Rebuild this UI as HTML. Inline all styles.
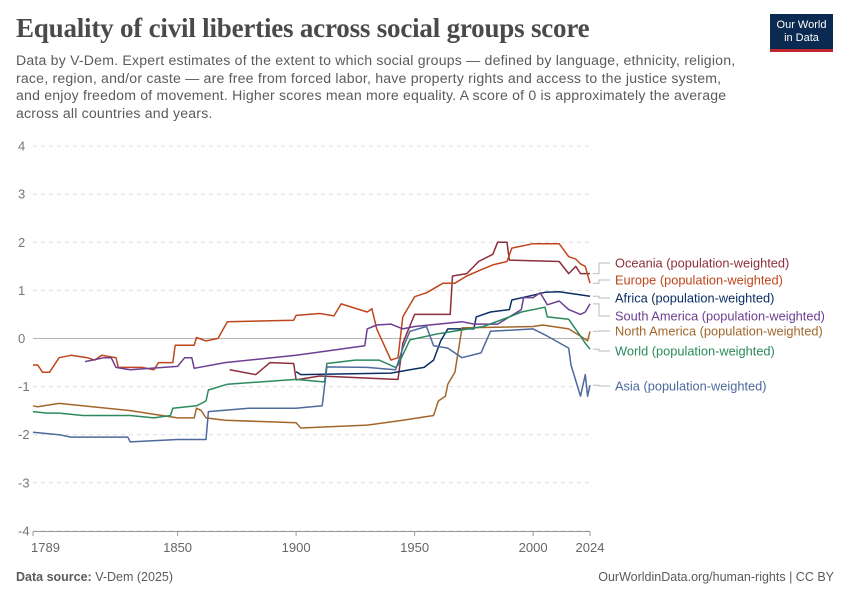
<!DOCTYPE html>
<html><head><meta charset="utf-8"><style>
body{margin:0;width:850px;height:600px;background:#fff;font-family:"Liberation Sans",sans-serif;overflow:hidden;position:relative}
.t{position:absolute}
</style></head><body>
<div class="t" style="left:16px;top:13px;font-family:'Liberation Serif',serif;font-size:27px;color:#4a4a4a;font-weight:bold;letter-spacing:-0.2px">Equality of civil liberties across social groups score</div>
<div class="t" style="left:16px;top:52px;white-space:nowrap;font-size:14.1px;line-height:17.5px;color:#5b5b5b;letter-spacing:0.2px">Data by V-Dem. Expert estimates of the extent to which social groups — defined by language, ethnicity, religion,<br>race, region, and/or caste — are free from forced labor, have property rights and access to the justice system,<br>and enjoy freedom of movement. Higher scores mean more equality. A score of 0 is approximately the average<br>across all countries and years.</div>
<div class="t" style="left:770px;top:14px;width:63px;height:38px;background:#0b2a52;border-bottom:3px solid #c0282e;color:#fff;font-size:11px;line-height:12.5px;text-align:center;padding-top:5px;box-sizing:border-box">Our World<br>in Data</div>
<svg class="t" style="left:0;top:0" width="850" height="600">
<g id="grid"></g><g id="lines"></g><g id="labels"></g>
</svg>
<div class="t" style="left:16px;top:570px;font-size:12.5px;color:#5b5b5b"><b>Data source:</b> V-Dem (2025)</div>
<div class="t" style="right:16px;top:570px;font-size:12.5px;color:#5b5b5b">OurWorldinData.org/human-rights | CC BY</div>
<script>
const yTicks=[4,3,2,1,0,-1,-2,-3,-4];
const xTicks=[1789,1850,1900,1950,2000,2024];
const seriesNames=["Oceania (population-weighted)","Europe (population-weighted)","Africa (population-weighted)","South America (population-weighted)","North America (population-weighted)","World (population-weighted)","Asia (population-weighted)"];
const seriesColors=["#8c2e3b","#c0461b","#0b2f63","#6d3e91","#a2662c","#2a8a5e","#4c6a9c"];
const oceaniaYears=[1872,1883,1889,1899,1900,1910,1942,1943,1945,1950,1965,1966,1972,1975,1977,1983,1985,1989,1990,2011,2015,2018,2020,2024];
const oceaniaVals=[-0.65,-0.75,-0.5,-0.52,-0.86,-0.78,-0.85,-0.85,-0.1,0.5,0.5,1.3,1.35,1.5,1.6,1.75,2.0,2.0,1.63,1.6,1.35,1.5,1.35,1.35];
const europeYears=[1789,1791,1793,1796,1800,1805,1812,1815,1818,1824,1825,1830,1835,1840,1842,1848,1849,1857,1858,1862,1867,1871,1899,1900,1910,1916,1919,1930,1932,1934,1940,1943,1945,1950,1955,1962,1967,1972,1979,1983,1989,1991,2000,2011,2015,2018,2020,2022,2024];
const europeVals=[-0.55,-0.55,-0.7,-0.7,-0.4,-0.35,-0.4,-0.45,-0.35,-0.4,-0.6,-0.6,-0.6,-0.65,-0.5,-0.5,-0.14,-0.14,0.02,-0.05,0.0,0.35,0.38,0.48,0.52,0.47,0.72,0.55,0.62,0.2,-0.45,-0.4,0.45,0.87,0.95,1.15,1.15,1.3,1.45,1.53,1.6,1.88,1.97,1.97,1.7,1.65,1.55,1.5,1.15];
const africaYears=[1900,1902,1940,1948,1954,1958,1961,1964,1975,1976,1982,1990,1991,2000,2005,2011,2024];
const africaVals=[-0.69,-0.75,-0.72,-0.65,-0.6,-0.45,-0.05,0.2,0.2,0.45,0.55,0.6,0.8,0.9,0.96,0.97,0.88];
const southAmYears=[1811,1819,1822,1824,1830,1850,1853,1856,1857,1870,1900,1910,1929,1930,1934,1940,1945,1950,1960,1970,1975,1985,1990,1995,1996,2000,2003,2006,2011,2015,2020,2022,2024];
const southAmVals=[-0.48,-0.4,-0.4,-0.6,-0.65,-0.58,-0.4,-0.4,-0.62,-0.5,-0.35,-0.28,-0.15,0.2,0.28,0.3,0.2,0.25,0.3,0.35,0.3,0.3,0.45,0.6,0.85,0.85,0.95,0.7,0.78,0.6,0.5,0.55,0.72];
const northAmYears=[1789,1791,1800,1830,1850,1857,1858,1860,1862,1870,1900,1902,1930,1945,1958,1960,1963,1964,1967,1970,2000,2004,2015,2020,2023,2024];
const northAmVals=[-1.4,-1.42,-1.35,-1.5,-1.65,-1.65,-1.45,-1.5,-1.65,-1.7,-1.75,-1.86,-1.8,-1.7,-1.6,-1.3,-1.2,-0.95,-0.7,0.22,0.25,0.28,0.2,0.05,-0.05,0.15];
const worldYears=[1789,1795,1800,1810,1830,1840,1847,1848,1858,1862,1863,1871,1900,1911,1912,1913,1925,1935,1942,1943,1948,1960,1979,1990,1995,2005,2006,2015,2020,2022,2024];
const worldVals=[-1.52,-1.55,-1.55,-1.6,-1.6,-1.65,-1.6,-1.45,-1.4,-1.3,-1.07,-0.95,-0.85,-0.9,-0.9,-0.52,-0.45,-0.45,-0.6,-0.55,-0.03,0.1,0.25,0.45,0.55,0.65,0.45,0.4,0.05,-0.1,-0.22];
const asiaYears=[1789,1800,1805,1829,1830,1850,1862,1863,1880,1900,1911,1913,1930,1942,1945,1948,1955,1958,1964,1970,1978,1982,2000,2006,2015,2016,2020,2022,2023,2024];
const asiaVals=[-1.95,-2.0,-2.05,-2.05,-2.15,-2.1,-2.1,-1.52,-1.45,-1.45,-1.4,-0.59,-0.6,-0.65,-0.2,0.15,0.25,-0.15,-0.2,-0.4,-0.3,0.15,0.2,0.05,-0.2,-0.55,-1.2,-0.75,-1.2,-0.97];
const allYears=[oceaniaYears,europeYears,africaYears,southAmYears,northAmYears,worldYears,asiaYears];
const allVals=[oceaniaVals,europeVals,africaVals,southAmVals,northAmVals,worldVals,asiaVals];
const labelY=[263,280,298,316,331,351,386];

const X0=33,X1=590,Y0=338.5,YU=48.1;
function xs(yr){return X0+(yr-1789)*(X1-X0)/(2024-1789);}
function ys(v){return Y0-v*YU;}
const NS="http://www.w3.org/2000/svg";
function mk(tag,attrs,parent,txt){const e=document.createElementNS(NS,tag);for(const k in attrs)e.setAttribute(k,attrs[k]);if(txt!==undefined)e.textContent=txt;parent.appendChild(e);return e;}
const grid=document.getElementById('grid'),lines=document.getElementById('lines'),labels=document.getElementById('labels');
yTicks.forEach(t=>{
  const l=mk('line',{x1:X0,x2:X1,y1:ys(t),y2:ys(t),stroke:t===0?'#b5b5b5':'#dddddd','stroke-dasharray':t===0?'':'4,4'},grid);
  
  
  const tx=mk('text',{x:18,y:ys(t)+4.5,'font-size':13,fill:'#777','font-family':'Liberation Sans, sans-serif'},grid,String(t));
  
  
});
mk('line',{x1:X0,x2:X1,y1:531.5,y2:531.5,stroke:'#999'},grid);
xTicks.forEach(t=>{
  const tk=mk('line',{x1:xs(t),x2:xs(t),y1:531.5,y2:536,stroke:'#999'},grid);
  
  
  const tx=mk('text',{x:xs(t),y:552,'font-size':13,fill:'#666','text-anchor':t===1789?'start':'middle','font-family':'Liberation Sans, sans-serif'},grid,String(t));
  if(t===1789)tx.setAttribute('x',xs(t)-2);
  
  
});
allYears.forEach((yrs,i)=>{
  let d='';
  yrs.forEach((yr,j)=>{d+=(j?'L':'M')+xs(yr).toFixed(1)+','+ys(allVals[i][j]).toFixed(1);});
  const p=mk('path',{d:d,fill:'none',stroke:seriesColors[i],'stroke-width':1.5,'stroke-linejoin':'round'},lines);
  
  
  const lastV=allVals[i][allVals[i].length-1];
  const ly=labelY[i];
  const c=mk('path',{d:`M${X1+3},${ys(lastV).toFixed(1)}H${X1+9}V${ly}H${X1+20}`,fill:'none',stroke:'#bbb','stroke-width':1},labels);
  
  
  const tx=mk('text',{x:615,y:ly+4.5,'font-size':12.8,fill:seriesColors[i],'font-family':'Liberation Sans, sans-serif'},labels,seriesNames[i]);
  
  
});
</script>
</body></html>
